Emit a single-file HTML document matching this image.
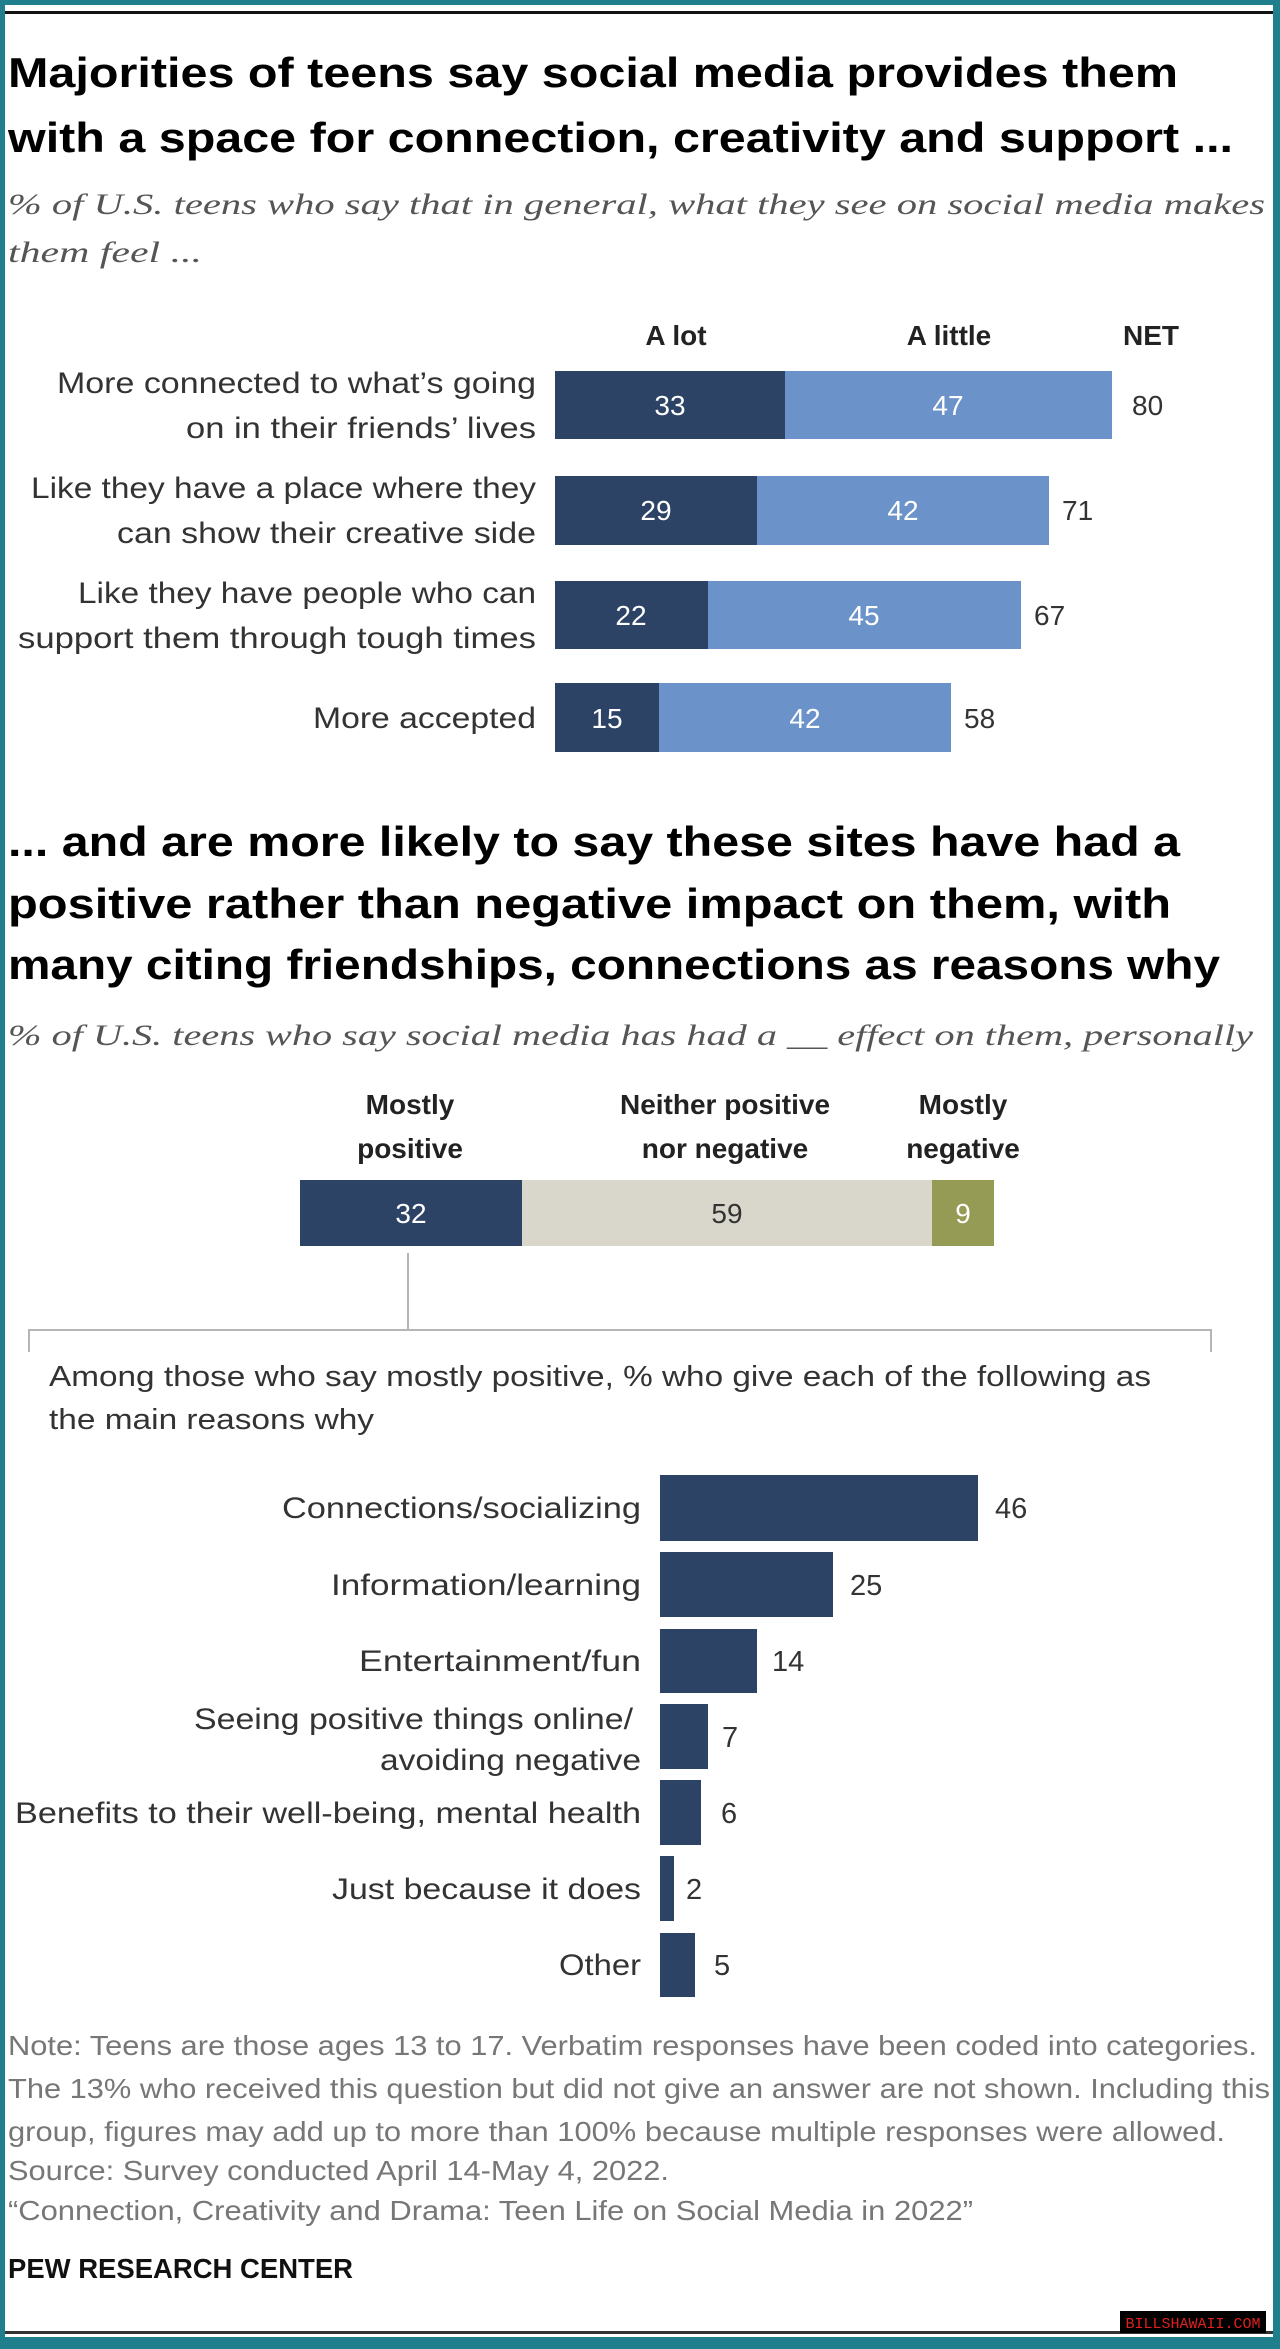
<!DOCTYPE html>
<html><head><meta charset="utf-8"><style>
html,body{margin:0;padding:0;background:#fff}
svg{display:block}
text{font-family:"Liberation Sans",Arial,sans-serif}
</style></head><body>
<svg width="1280" height="2349" viewBox="0 0 1280 2349" xmlns="http://www.w3.org/2000/svg">
<rect x="0" y="0" width="1280" height="2349" fill="#1f7f8c"/>
<rect x="5" y="5" width="1268" height="2332" fill="#fff"/>
<rect x="5" y="11" width="1268" height="3" fill="#111"/>
<rect x="5" y="2331" width="1268" height="3" fill="#333"/>

<!-- Title 1 -->
<g font-weight="bold" font-size="42" fill="#000">
<text x="8" y="87" textLength="1170" lengthAdjust="spacingAndGlyphs">Majorities of teens say social media provides them</text>
<text x="8" y="152" textLength="1225" lengthAdjust="spacingAndGlyphs">with a space for connection, creativity and support ...</text>
</g>
<g font-style="italic" font-size="30" fill="#555">
<text x="8" y="214" textLength="1257" lengthAdjust="spacingAndGlyphs" style="font-family:'Liberation Serif',serif">% of U.S. teens who say that in general, what they see on social media makes</text>
<text x="8" y="262" textLength="194" lengthAdjust="spacingAndGlyphs" style="font-family:'Liberation Serif',serif">them feel ...</text>
</g>

<!-- headers -->
<g font-weight="bold" font-size="28" fill="#222" text-anchor="middle">
<text x="676" y="345">A lot</text>
<text x="949" y="345">A little</text>
<text x="1151" y="345">NET</text>
</g>

<!-- section 1 bars -->
<g>
<rect x="555" y="371" width="230" height="68" fill="#2d4366"/>
<rect x="785" y="371" width="327" height="68" fill="#6b93c9"/>
<rect x="555" y="476" width="202" height="69" fill="#2d4366"/>
<rect x="757" y="476" width="292" height="69" fill="#6b93c9"/>
<rect x="555" y="581" width="153" height="68" fill="#2d4366"/>
<rect x="708" y="581" width="313" height="68" fill="#6b93c9"/>
<rect x="555" y="683" width="104" height="69" fill="#2d4366"/>
<rect x="659" y="683" width="292" height="69" fill="#6b93c9"/>
</g>
<g font-size="28" fill="#fff" text-anchor="middle">
<text x="670" y="415">33</text><text x="948" y="415">47</text>
<text x="656" y="520">29</text><text x="903" y="520">42</text>
<text x="631" y="625">22</text><text x="864" y="625">45</text>
<text x="607" y="728">15</text><text x="805" y="728">42</text>
</g>
<g font-size="28" fill="#333">
<text x="1132" y="415">80</text>
<text x="1062" y="520">71</text>
<text x="1034" y="625">67</text>
<text x="964" y="728">58</text>
</g>
<g font-size="30" fill="#333" text-anchor="end">
<text x="536" y="393" textLength="479" lengthAdjust="spacingAndGlyphs">More connected to what’s going</text>
<text x="536" y="438" textLength="350" lengthAdjust="spacingAndGlyphs">on in their friends’ lives</text>
<text x="536" y="498" textLength="505" lengthAdjust="spacingAndGlyphs">Like they have a place where they</text>
<text x="536" y="543" textLength="419" lengthAdjust="spacingAndGlyphs">can show their creative side</text>
<text x="536" y="603" textLength="458" lengthAdjust="spacingAndGlyphs">Like they have people who can</text>
<text x="536" y="648" textLength="518" lengthAdjust="spacingAndGlyphs">support them through tough times</text>
<text x="536" y="728" textLength="223" lengthAdjust="spacingAndGlyphs">More accepted</text>
</g>

<!-- Title 2 -->
<g font-weight="bold" font-size="42" fill="#000">
<text x="8" y="856" textLength="1172" lengthAdjust="spacingAndGlyphs">... and are more likely to say these sites have had a</text>
<text x="8" y="918" textLength="1163" lengthAdjust="spacingAndGlyphs">positive rather than negative impact on them, with</text>
<text x="8" y="979" textLength="1212" lengthAdjust="spacingAndGlyphs">many citing friendships, connections as reasons why</text>
</g>
<text x="8" y="1045" font-size="30" font-style="italic" fill="#555" textLength="1245" lengthAdjust="spacingAndGlyphs" style="font-family:'Liberation Serif',serif">% of U.S. teens who say social media has had a __ effect on them, personally</text>

<g font-weight="bold" font-size="28" fill="#222" text-anchor="middle">
<text x="410" y="1114">Mostly</text>
<text x="410" y="1158">positive</text>
<text x="725" y="1114">Neither positive</text>
<text x="725" y="1158">nor negative</text>
<text x="963" y="1114">Mostly</text>
<text x="963" y="1158">negative</text>
</g>
<rect x="300" y="1180" width="222" height="66" fill="#2d4366"/>
<rect x="522" y="1180" width="410" height="66" fill="#d9d6cb"/>
<rect x="932" y="1180" width="62" height="66" fill="#959a55"/>
<g font-size="28" text-anchor="middle">
<text x="411" y="1223" fill="#fff">32</text>
<text x="727" y="1223" fill="#333">59</text>
<text x="963" y="1223" fill="#fff">9</text>
</g>
<g stroke="#b5b5b5" stroke-width="2" fill="none">
<line x1="408" y1="1253" x2="408" y2="1330"/>
<polyline points="29,1352 29,1330 1211,1330 1211,1352"/>
</g>
<g font-size="29" fill="#333">
<text x="49" y="1386" textLength="1102" lengthAdjust="spacingAndGlyphs">Among those who say mostly positive, % who give each of the following as</text>
<text x="49" y="1429" textLength="325" lengthAdjust="spacingAndGlyphs">the main reasons why</text>
</g>

<!-- section 3 -->
<g fill="#2d4366">
<rect x="660" y="1475" width="318" height="66"/>
<rect x="660" y="1552" width="173" height="65"/>
<rect x="660" y="1629" width="97" height="64"/>
<rect x="660" y="1704" width="48" height="65"/>
<rect x="660" y="1780" width="41" height="65"/>
<rect x="660" y="1856" width="14" height="65"/>
<rect x="660" y="1933" width="35" height="64"/>
</g>
<g font-size="29" fill="#333">
<text x="995" y="1518">46</text>
<text x="850" y="1595">25</text>
<text x="772" y="1671">14</text>
<text x="722" y="1747">7</text>
<text x="721" y="1823">6</text>
<text x="686" y="1899">2</text>
<text x="714" y="1975">5</text>
</g>
<g font-size="30" fill="#333" text-anchor="end">
<text x="641" y="1518" textLength="359" lengthAdjust="spacingAndGlyphs">Connections/socializing</text>
<text x="641" y="1595" textLength="310" lengthAdjust="spacingAndGlyphs">Information/learning</text>
<text x="641" y="1671" textLength="282" lengthAdjust="spacingAndGlyphs">Entertainment/fun</text>
<text x="633" y="1729" textLength="439" lengthAdjust="spacingAndGlyphs">Seeing positive things online/</text>
<text x="641" y="1770" textLength="261" lengthAdjust="spacingAndGlyphs">avoiding negative</text>
<text x="641" y="1823" textLength="626" lengthAdjust="spacingAndGlyphs">Benefits to their well-being, mental health</text>
<text x="641" y="1899" textLength="309" lengthAdjust="spacingAndGlyphs">Just because it does</text>
<text x="641" y="1975" textLength="82" lengthAdjust="spacingAndGlyphs">Other</text>
</g>

<!-- footer -->
<g font-size="28" fill="#777">
<text x="8" y="2055" textLength="1249" lengthAdjust="spacingAndGlyphs">Note: Teens are those ages 13 to 17. Verbatim responses have been coded into categories.</text>
<text x="8" y="2098" textLength="1262" lengthAdjust="spacingAndGlyphs">The 13% who received this question but did not give an answer are not shown. Including this</text>
<text x="8" y="2141" textLength="1217" lengthAdjust="spacingAndGlyphs">group, figures may add up to more than 100% because multiple responses were allowed.</text>
<text x="8" y="2180" textLength="661" lengthAdjust="spacingAndGlyphs">Source: Survey conducted April 14-May 4, 2022.</text>
<text x="8" y="2220" textLength="965" lengthAdjust="spacingAndGlyphs">“Connection, Creativity and Drama: Teen Life on Social Media in 2022”</text>
</g>
<text x="8" y="2278" font-size="28" font-weight="bold" fill="#111" textLength="345" lengthAdjust="spacingAndGlyphs">PEW RESEARCH CENTER</text>

<rect x="1120" y="2311" width="146" height="22" fill="#000"/>
<text x="1193" y="2328" font-size="15" fill="#e02020" text-anchor="middle" style="font-family:'Liberation Mono',monospace">BILLSHAWAII.COM</text>
</svg>
</body></html>
